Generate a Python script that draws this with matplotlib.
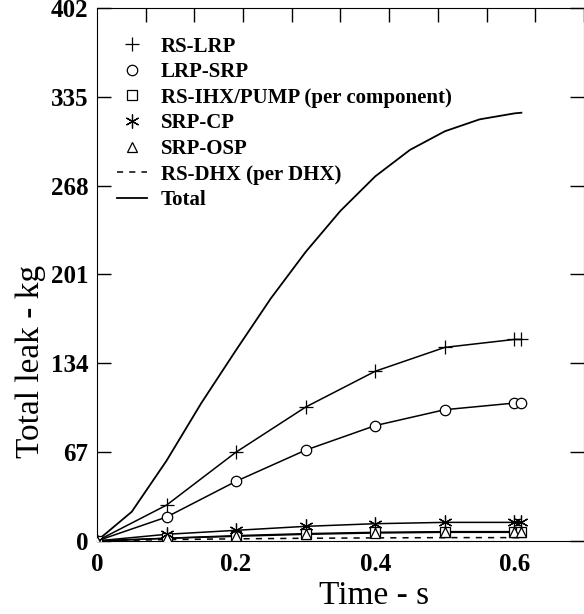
import numpy as np
import matplotlib
matplotlib.use("Agg")
import matplotlib.pyplot as plt
from matplotlib.ticker import MultipleLocator

plt.rcParams['font.family'] = ['Liberation Serif', 'DejaVu Serif']

# time points of the marked series (s)
t = [0.0, 0.1, 0.2, 0.3, 0.4, 0.5, 0.6, 0.61]
rs_lrp = [0, 27, 67, 101, 128, 146, 152, 152]
lrp_srp = [0, 18, 45, 68.5, 87, 99, 104, 104]
rs_ihx = [0, 2, 4, 5.5, 6.5, 7, 7, 7]
srp_cp = [0, 5, 8, 11, 13, 14, 14, 14]
srp_osp = [0, 2, 3.5, 5, 6, 6.5, 6.5, 6.5]
rs_dhx = [0, 1, 1.6, 2, 2.3, 2.5, 2.5, 2.5]

# total curve
t_tot = [0.0, 0.05, 0.1, 0.15, 0.2, 0.25, 0.3, 0.35, 0.4, 0.45, 0.5, 0.55, 0.6, 0.61]
total = [0, 22, 60.5, 104, 144, 183, 218, 249, 275, 295, 309, 318, 322.5, 323]

yticks = [0, 67, 134, 201, 268, 335, 402]

fig = plt.figure(figsize=(5.84, 6.14), dpi=100)
ax = fig.add_axes([0.166, 0.119, 0.834, 0.868])

lw = 1.1
series = [
    (rs_lrp, '+', 'RS-LRP', 10),
    (lrp_srp, 'o', 'LRP-SRP', 7.5),
    (rs_ihx, 's', 'RS-IHX/PUMP (per component)', 7),
    (srp_cp, (6, 2, 0), 'SRP-CP', 10),
    (srp_osp, '^', 'SRP-OSP', 7.5),
]
handles = []
for vals, mk, lab, ms in series:
    ax.plot(t, vals, color='black', lw=lw, zorder=2)
    h, = ax.plot(t, vals, ls='none', marker=mk, ms=ms, mfc='white', mec='black',
                 mew=0.9, label=lab, zorder=3)
    handles.append(h)

h, = ax.plot(t, rs_dhx, color='black', lw=lw, ls=(0, (4, 4)), label='RS-DHX (per DHX)')
handles.append(h)
h, = ax.plot(t_tot, total, color='black', lw=1.3, label='Total')
handles.append(h)

ax.set_xlim(0, 0.7)
ax.set_ylim(0, 402)
ax.set_xticks([0, 0.2, 0.4, 0.6])
ax.set_xticklabels(['0', '0.2', '0.4', '0.6'])
ax.set_yticks(yticks)
ax.tick_params(axis='x', which='major', bottom=False, top=False, labelsize=18, pad=5)
ax.xaxis.set_minor_locator(MultipleLocator(0.07))
ax.tick_params(axis='x', which='minor', bottom=False, top=True, direction='in', length=10, width=1)
ax.tick_params(axis='y', left=True, right=True, direction='in', length=10, width=1,
               labelsize=18, pad=6)
for lbl in ax.get_xticklabels() + ax.get_yticklabels():
    lbl.set_fontweight('bold')

ax.set_xlabel('Time - s', fontsize=24)
ax.set_ylabel('Total leak - kg', fontsize=24)
ax.xaxis.set_label_coords(0.568, -0.075)
ax.yaxis.set_label_coords(-0.104, 0.336)

ax.legend(handles=handles, loc='upper left', bbox_to_anchor=(0.02, 0.966),
          frameon=False, borderpad=0, numpoints=1, handlelength=1.45,
          handletextpad=0.65, labelspacing=0.27,
          prop={'family': 'Liberation Serif', 'weight': 'bold', 'size': 15})

fig.savefig('out.png', dpi=100)
